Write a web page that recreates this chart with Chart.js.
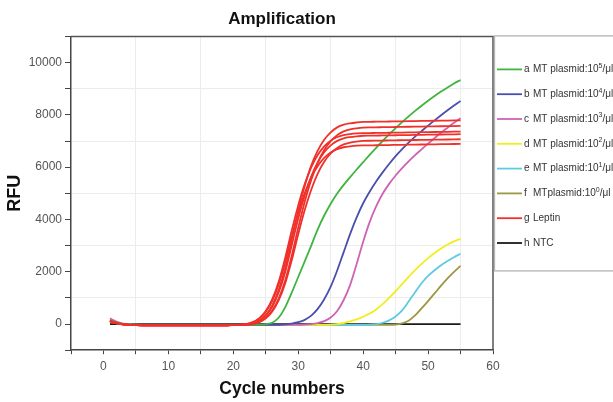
<!DOCTYPE html>
<html>
<head>
<meta charset="utf-8">
<script src="https://cdn.jsdelivr.net/npm/chart.js@4.4.1/dist/chart.umd.min.js"></script>
<style>
html,body{margin:0;padding:0;background:#fff;}
#wrap{width:613px;height:402px;position:relative;}
</style>
</head>
<body>
<div id="wrap"><canvas id="c" width="613" height="402"></canvas></div>
<script>
// ---------------- data ----------------
const cycles = [1,2,3,4,5,6,7,8,9,10,11,12,13,14,15,16,17,18,19,20,21,22,23,24,25,26,27,28,29,30,31,32,33,34,35,36,37,38,39,40,41,42,43,44,45,46,47,48,49,50,51,52,53,54,55];

const plasmid1e5 = [150,60,10,-15,-25,-30,-30,-35,-35,-35,
  -35,-35,-35,-35,-35,-35,-30,-30,-30,-30,
  -30,-30,-28,-25,0,50,250,650,1200,1800,
  2400,3000,3620,4150,4600,4990,5320,5620,5910,6190,
  6470,6740,7000,7250,7490,7720,7940,8150,8350,8540,
  8720,8890,9050,9200,9335];

const plasmid1e4 = [130,50,0,-20,-30,-35,-35,-35,-35,-35,
  -35,-35,-35,-35,-35,-35,-35,-35,-35,-35,
  -35,-35,-35,-35,-35,-35,-30,-10,20,70,
  160,320,580,950,1430,2050,2750,3450,4080,4620,
  5060,5450,5800,6120,6420,6690,6940,7170,7380,7590,
  7790,7985,8175,8358,8535];

const plasmid1e3 = [220,90,20,-10,-25,-35,-35,-35,-35,-35,
  -35,-35,-35,-35,-35,-35,-35,-35,-35,-35,
  -35,-35,-35,-35,-35,-35,-35,-35,-35,-30,
  -20,0,40,110,250,500,920,1500,2300,3150,
  3900,4500,4980,5360,5680,5960,6220,6460,6680,6900,
  7110,7320,7510,7700,7870];

const plasmid1e2 = [150,50,0,-20,-30,-35,-35,-35,-35,-35,
  -35,-35,-35,-35,-35,-35,-35,-35,-35,-35,
  -35,-35,-35,-35,-35,-35,-35,-35,-35,-35,
  -35,-35,-35,-30,-20,0,40,100,180,280,
  400,560,760,1000,1260,1530,1800,2060,2300,2520,
  2720,2890,3040,3160,3265];

const plasmid1e1 = [120,40,0,-20,-30,-35,-35,-35,-35,-35,
  -35,-35,-35,-35,-35,-35,-35,-35,-35,-35,
  -35,-35,-35,-35,-35,-35,-35,-35,-35,-35,
  -35,-35,-35,-35,-35,-35,-35,-35,-35,-35,
  -25,0,50,140,290,520,860,1220,1560,1840,
  2060,2250,2410,2555,2690];

const plasmid1e0 = [100,30,-10,-25,-30,-35,-35,-35,-35,-35,
  -35,-35,-35,-35,-35,-35,-35,-35,-35,-35,
  -35,-35,-35,-35,-35,-35,-35,-35,-35,-35,
  -35,-35,-35,-35,-35,-35,-35,-35,-35,-35,
  -35,-35,-35,-30,-20,30,130,330,600,880,
  1170,1470,1750,1995,2225];

const leptin1 = [120,40,-10,-30,-40,-45,-45,-45,-45,-45,
  -45,-45,-45,-45,-45,-45,-45,-45,-45,-40,
  -35,-19,23,137,346,712,1307,2143,3239,4336,
  5275,6059,6634,7051,7333,7521,7626,7678,7709,7730,
  7734,7738,7742,7746,7750,7754,7758,7762,7766,7770,
  7774,7778,7782,7786,7790];

const leptin2 = [110,35,-15,-30,-40,-45,-45,-45,-45,-45,
  -45,-45,-45,-45,-45,-45,-45,-45,-45,-40,
  -37,-27,1,77,234,514,981,1678,2617,3684,
  4675,5513,6174,6657,6997,7225,7368,7444,7484,7510,
  7520,7524,7528,7532,7536,7540,7544,7548,7552,7556,
  7560,7564,7568,7572,7576];

const leptin3 = [100,30,-15,-35,-40,-45,-45,-45,-45,-45,
  -45,-45,-45,-45,-45,-45,-45,-45,-45,-37,
  -28,0,74,226,498,952,1628,2540,3576,4538,
  5351,5993,6462,6792,7014,7153,7227,7266,7290,7300,
  7304,7308,7312,7316,7320,7324,7328,7332,7336,7340,
  7344,7348,7352,7356,7360];

const leptin4 = [130,45,-5,-30,-40,-45,-45,-45,-45,-45,
  -45,-45,-45,-45,-45,-45,-45,-45,-45,-42,
  -35,-20,19,125,320,661,1215,1994,3015,4038,
  4913,5643,6178,6567,6830,7005,7103,7151,7180,7200,
  7204,7208,7212,7216,7220,7224,7228,7232,7236,7240,
  7244,7248,7252,7256,7260];

const leptin5 = [115,40,-10,-30,-40,-45,-45,-45,-45,-45,
  -45,-45,-45,-45,-45,-45,-45,-45,-45,-40,
  -37,-28,-2,69,216,477,912,1562,2438,3433,
  4357,5138,5754,6205,6522,6735,6868,6940,6977,7001,
  7010,7014,7018,7022,7026,7030,7034,7038,7042,7046,
  7050,7054,7058,7062,7066];

const leptin6 = [105,35,-12,-32,-40,-45,-45,-45,-45,-45,
  -45,-45,-45,-45,-45,-45,-45,-45,-45,-37,
  -28,-3,66,209,464,888,1521,2375,3344,4245,
  5006,5606,6045,6355,6562,6692,6761,6798,6821,6830,
  6834,6838,6842,6846,6850,6854,6858,6862,6866,6870,
  6874,6878,6882,6886,6890];

const ntc = [0,0,0,0,0,0,0,0,0,0,
  0,0,0,0,0,0,0,0,0,0,
  0,0,0,0,0,0,0,0,0,0,
  0,0,0,0,0,0,0,0,0,0,
  0,0,0,0,0,0,0,0,0,0,
  0,0,0,0,0];

const legendKeys = ['a','b','c','d','e','f','g','h'];
const legendTexts = ['MT plasmid:10\u2075/\u03bcl','MT plasmid:10\u2074/\u03bcl','MT plasmid:10\u00b3/\u03bcl','MT plasmid:10\u00b2/\u03bcl','MT plasmid:10\u00b9/\u03bcl','MTplasmid:10\u2070/\u03bcl','Leptin','NTC'];
const xTickLabels = [0,10,20,30,40,50,60];
const yTickLabels = [0,2000,4000,6000,8000,10000];

// ---------------- styles ----------------
const COLORS = ['#3fb43f','#4a4fae','#d062b4','#f2ee1e','#5fcbe2','#9a9840','#f0302a','#1a1a1a'];
const FONT = "'Liberation Sans', Arial, Helvetica, sans-serif";
const SUP = {'\u2070':'0','\u00b9':'1','\u00b2':'2','\u00b3':'3','\u2074':'4','\u2075':'5','\u2076':'6','\u2077':'7','\u2078':'8','\u2079':'9'};

function pts(vals){ return cycles.map((c,i)=>({x:c,y:vals[i]})); }

const datasets = [];
[leptin1,leptin2,leptin3,leptin4,leptin5,leptin6].forEach(v=>{
  datasets.push({label:'g Leptin', data:pts(v), borderColor:COLORS[6], order:0});
});
[plasmid1e5,plasmid1e4,plasmid1e3,plasmid1e2,plasmid1e1,plasmid1e0].forEach((v,i)=>{
  datasets.push({label:legendKeys[i]+' '+legendTexts[i], data:pts(v), borderColor:COLORS[i], order:1});
});
datasets.push({label:'h NTC', data:pts(ntc), borderColor:COLORS[7], order:2});

function drawRich(ctx, text, x, y){
  let cx = x;
  for (const ch of text){
    if (SUP[ch]){
      ctx.font='7px '+FONT;
      ctx.fillText(SUP[ch], cx, y-3.5);
      cx += ctx.measureText(SUP[ch]).width;
    } else {
      ctx.font='10px '+FONT;
      ctx.fillText(ch, cx, y);
      cx += ctx.measureText(ch).width;
    }
  }
}

const frameLegend = {
  id:'frameLegend',
  afterDraw(chart){
    const {ctx, chartArea:a} = chart;
    ctx.save();
    ctx.strokeStyle='#555'; ctx.lineWidth=1.5;
    ctx.beginPath(); ctx.moveTo(a.left,a.top); ctx.lineTo(a.right,a.top); ctx.lineTo(a.right,a.bottom); ctx.stroke();
    const bx=a.right+1, by=a.top-1, bh=235;
    ctx.fillStyle='#fff'; ctx.fillRect(bx,by,chart.width-bx+4,bh);
    ctx.strokeStyle='#b4b4b4'; ctx.lineWidth=1.3;
    ctx.strokeRect(bx+0.5,by+0.5,chart.width,bh);
    ctx.textBaseline='middle'; ctx.textAlign='left';
    legendKeys.forEach((k,i)=>{
      const y = by+34+i*24.8;
      ctx.strokeStyle=COLORS[i]; ctx.lineWidth=1.8;
      ctx.beginPath(); ctx.moveTo(bx+3,y); ctx.lineTo(bx+28,y); ctx.stroke();
      ctx.fillStyle='#333';
      ctx.font='10px '+FONT;
      ctx.fillText(k,bx+30,y);
      drawRich(ctx, legendTexts[i], bx+39, y);
    });
    ctx.restore();
  }
};

new Chart(document.getElementById('c'),{
  type:'line',
  data:{datasets},
  options:{
    responsive:false, animation:false,
    layout:{padding:{left:0,right:120,top:0,bottom:2.5}},
    elements:{point:{radius:0}, line:{borderWidth:1.8, cubicInterpolationMode:'monotone', fill:false}},
    plugins:{
      legend:{display:false},
      tooltip:{enabled:false},
      title:{display:true, text:'Amplification', fullSize:false, color:'#111',
        font:{family:FONT, size:17, weight:'bold'}, padding:{top:9,bottom:7}}
    },
    scales:{
      x:{type:'linear', min:-5, max:60,
        afterFit(s){ s.height=49.3; },
        ticks:{stepSize:5, autoSkip:false, maxRotation:0, padding:5, color:'#555',
          font:{family:FONT,size:12},
          callback:v=> xTickLabels.includes(v)? String(v) : ''},
        grid:{color:c=> (c.tick && c.tick.value%10!==0 && c.tick.value!==-5) ? '#ececec' : 'rgba(0,0,0,0)',
          tickColor:'#444', tickLength:4, lineWidth:1},
        border:{color:'#444', width:1.5},
        title:{display:true, text:'Cycle numbers', color:'#111', font:{family:FONT,size:17.5,weight:'bold'}, padding:{top:0,bottom:0}}
      },
      y:{type:'linear', min:-1000, max:11000,
        afterFit(s){ s.width=71; },
        ticks:{stepSize:1000, autoSkip:false, padding:3, color:'#555',
          font:{family:FONT,size:12},
          callback:v=> yTickLabels.includes(v)? String(v) : ''},
        grid:{color:c=> (c.tick && c.tick.value%2000!==0 && c.tick.value>-1000 && c.tick.value<11000) ? '#ececec' : 'rgba(0,0,0,0)',
          tickColor:'#444', tickLength:6, lineWidth:1},
        border:{color:'#444', width:1.5},
        title:{display:true, text:'RFU', color:'#111', font:{family:FONT,size:18,weight:'bold'}, padding:{top:4,bottom:0}}
      }
    }
  },
  plugins:[frameLegend]
});
</script>
</body>
</html>
